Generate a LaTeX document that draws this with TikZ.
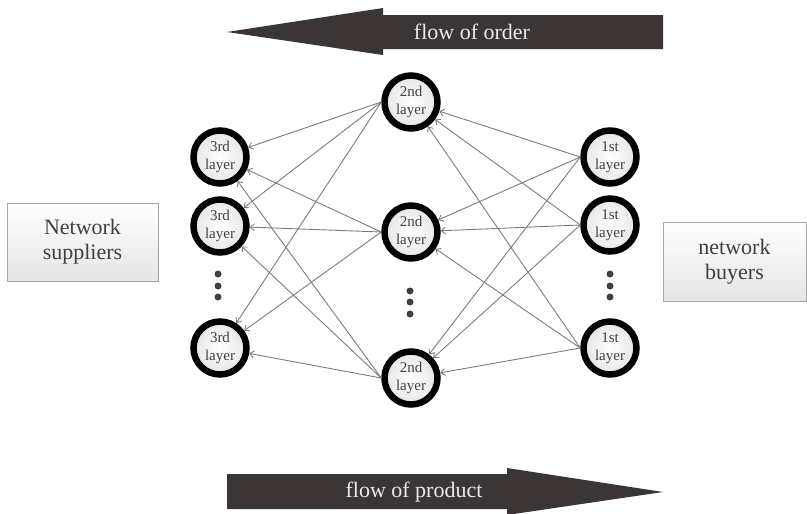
\documentclass[tikz,border=0pt]{standalone}
\usepackage{fontspec}
\setmainfont{Liberation Serif}
\usetikzlibrary{arrows.meta}
\definecolor{bigarrow}{HTML}{3B3536}
\definecolor{edgec}{HTML}{7C7C7C}
\definecolor{txtc}{HTML}{404040}
\definecolor{dotc}{HTML}{404040}
\begin{document}
\begin{tikzpicture}[x=1pt,y=-1pt,
  layer/.style={circle, draw=black, line width=6.5pt, minimum size=53pt, inner sep=0pt,
    inner color=white, outer color=black!10, align=center,
    font=\fontsize{15}{17.5}\selectfont, text=txtc},
  edgeline/.style={draw=edgec, line width=0.9pt, -{Straight Barb[length=4pt,width=7pt]}},
  sidebox/.style={draw=gray!70, line width=0.8pt, top color=white, bottom color=black!10,
    text=txtc, font=\fontsize{22}{25}\selectfont, align=center, inner sep=0pt},
  flowtext/.style={text=white!92!black, font=\fontsize{22}{25}\selectfont, inner sep=0pt},
  vdot/.style={circle, fill=dotc, minimum size=7pt, inner sep=0pt}
]
\useasboundingbox (0,0) rectangle (807,514);

% big flow arrows
\fill[bigarrow] (227,32) -- (383,8) -- (383,15) -- (663,15) -- (663,49) -- (383,49) -- (383,55) -- cycle;
\node[flowtext] (order) at (472,32) {flow of order};
\fill[bigarrow] (227,474) -- (507,474) -- (507,468) -- (663,492) -- (507,515) -- (507,509) -- (227,509) -- cycle;
\node[flowtext] (product) at (414,492) {flow of product};

% side boxes
\node[sidebox, minimum width=151pt, minimum height=78pt] (sup) at (82.5,242) {Network\\suppliers};
\node[sidebox, minimum width=143pt, minimum height=79pt] (buy) at (734.5,261.5) {network\\buyers};

% layers
\node[layer] (c1) at (220,157) {3rd\\layer};
\node[layer] (c2) at (220,226) {3rd\\layer};
\node[layer] (c3) at (220,348) {3rd\\layer};
\node[layer] (b1) at (411,102) {2nd\\layer};
\node[layer] (b2) at (411,232) {2nd\\layer};
\node[layer] (b3) at (411,378) {2nd\\layer};
\node[layer] (a1) at (610,157) {1st\\layer};
\node[layer] (a2) at (610,225) {1st\\layer};
\node[layer] (a3) at (610,348) {1st\\layer};

% vertical dots
\node[vdot] (dc1) at (218,274) {};
\node[vdot] (dc2) at (218,286) {};
\node[vdot] (dc3) at (218,297) {};
\node[vdot] (db1) at (410,291) {};
\node[vdot] (db2) at (410,302) {};
\node[vdot] (db3) at (410,314) {};
\node[vdot] (da1) at (610,274) {};
\node[vdot] (da2) at (610,286) {};
\node[vdot] (da3) at (610,297) {};

% connectors
\foreach \s in {a1,a2,a3}{
  \foreach \t in {b1,b2,b3}{
    \draw[edgeline] (\s.west) -- (\t);
  }
}
\foreach \s in {b1,b2,b3}{
  \foreach \t in {c1,c2,c3}{
    \draw[edgeline] (\s.west) -- (\t);
  }
}
\end{tikzpicture}
\end{document}
